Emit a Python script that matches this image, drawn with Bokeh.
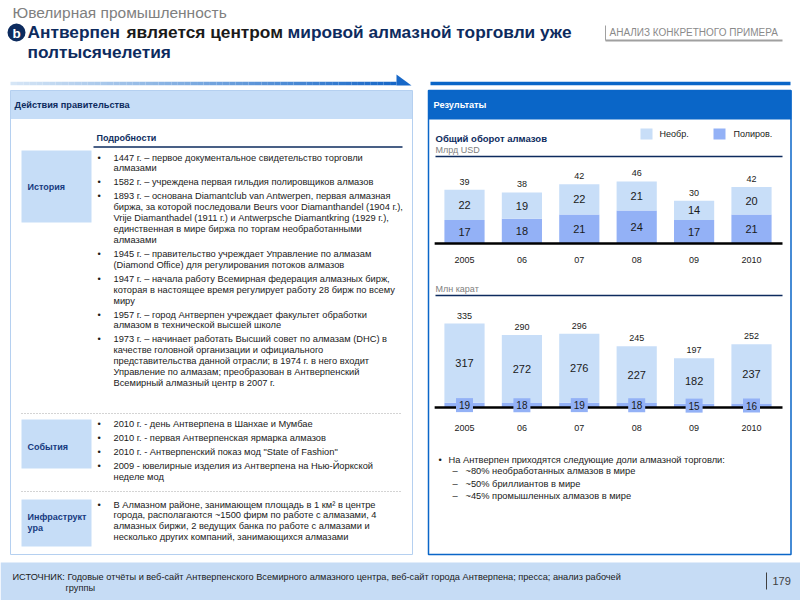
from bokeh.plotting import figure
from bokeh.models import Range1d
from bokeh.core.properties import value
from bokeh.embed import file_html
from bokeh.resources import INLINE

# ---------------- data ----------------
years = ["2005", "06", "07", "08", "09", "2010"]
usd_rough = [22, 19, 22, 21, 14, 20]
usd_polished = [17, 18, 21, 24, 17, 21]
usd_total = [39, 38, 42, 46, 30, 42]
carat_rough = [317, 272, 276, 227, 182, 237]
carat_polished = [19, 18, 19, 18, 15, 16]
carat_total = [335, 290, 296, 245, 197, 252]
legend_labels = ["Необр.", "Полиров."]

history = [
    ["1447 г. – первое документальное свидетельство торговли", "алмазами"],
    ["1582 г. – учреждена первая гильдия полировщиков алмазов"],
    ["1893 г. – основана Diamantclub van Antwerpen, первая алмазная",
     "биржа, за которой последовали Beurs voor Diamanthandel (1904 г.),",
     "Vrije Diamanthadel  (1911  г.) и Antwerpsche Diamantkring (1929 г.),",
     "единственная в мире биржа по торгам необработанными",
     "алмазами"],
    ["1945 г. – правительство учреждает Управление по алмазам",
     "(Diamond  Office) для регулирования потоков алмазов"],
    ["1947 г. – начала работу Всемирная федерация алмазных бирж,",
     "которая в настоящее время регулирует работу 28 бирж по всему",
     "миру"],
    ["1957 г. – город Антверпен учреждает факультет обработки",
     "алмазом в технической высшей школе"],
    ["1973 г. – начинает работать Высший совет по алмазам (DHC) в",
     "качестве головной организации и официального",
     "представительства данной отрасли; в 1974 г. в него входит",
     "Управление по алмазам; преобразован в Антверпенский",
     "Всемирный алмазный центр в 2007 г."],
]
events = [
    ["2010 г. - день Антверпена в Шанхае и Мумбае"],
    ["2010 г. - первая Антверпенская ярмарка алмазов"],
    ["2010 г. - Антверпенский показ мод \"State of Fashion\""],
    ["2009 - ювелирные изделия из Антверпена на Нью-Йоркской", "неделе мод"],
]
infra = [
    ["В Алмазном районе, занимающем площадь в 1 км² в центре",
     "города, располагаются ~1500 фирм по работе с алмазами, 4",
     "алмазных биржи, 2 ведущих банка по работе с алмазами и",
     "несколько других компаний, занимающихся алмазами"],
]
share_intro = "На Антверпен приходятся следующие доли алмазной торговли:"
shares = ["~80% необработанных алмазов в мире",
          "~50% бриллиантов в мире",
          "~45% промышленных алмазов в мире"]

# ---------------- style ----------------
FONT = "Liberation Sans"
NAVY = "#0d2b5e"
CAT = "#163a80"
BLACK = "#1a1a1a"
GRAY = "#808080"
LIGHTBOX = "#c6ddf7"
BLUE = "#0a66c8"
BAR_LIGHT = "#c8def8"
BAR_POL = "#93b1f6"
BODY = 9.3

W, H = 800, 600
p = figure(width=W, height=H, x_range=Range1d(0, W), y_range=Range1d(H, 0),
           output_backend="svg", toolbar_location=None, min_border=0,
           x_axis_location=None, y_axis_location=None)
p.grid.visible = False
p.outline_line_color = None
p.background_fill_color = "white"
p.border_fill_color = "white"


def txt(x, y, s, size, color=BLACK, bold=False, font=FONT, align="left", **kw):
    p.text(x=[x], y=[y], text=[s], text_font=value(font), text_font_size=f"{size}px",
           text_color=color, text_font_style="bold" if bold else "normal",
           text_align=align, text_baseline="middle", **kw)


def bullets(x_b, x_t, y0, items, step, gap, size=BODY):
    y = y0
    for item in items:
        txt(x_b, y, "•", size)
        for line in item:
            txt(x_t, y, line, size)
            y += step
        y += gap


# ---------------- header ----------------
txt(12, 12, "Ювелирная промышленность", 15.5, color=GRAY)
p.scatter(x=[16], y=[32], size=18, marker="circle", fill_color=NAVY, line_color=None)
txt(16, 32.5, "b", 13.5, color="white", bold=True, align="center")
TS = 17.3
txt(27, 31, "Антверпен", TS, color=NAVY, bold=True)
txt(126, 31, "является центром", TS, color=BLACK, bold=True)
txt(287, 31, "мировой алмазной торговли уже", TS, color=NAVY, bold=True)
txt(27, 51, "полтысячелетия", TS, color=NAVY, bold=True)

p.segment(x0=[605], y0=[25], x1=[605], y1=[40], line_color="#a0a0a0", line_width=1)
p.segment(x0=[605], y0=[40], x1=[782], y1=[40], line_color="#a0a0a0", line_width=2)
txt(609, 32, "АНАЛИЗ КОНКРЕТНОГО ПРИМЕРА", 10, color="#8a8a8a")

# gradient arrow line (left)
N = 60
c0 = (214, 230, 246)
c1 = (24, 104, 200)
xs = [10 + (396 - 10) * i / N for i in range(N + 1)]
cols = []
for i in range(N):
    t = i / (N - 1)
    cols.append("#%02x%02x%02x" % tuple(int(c0[k] + (c1[k] - c0[k]) * t) for k in range(3)))
p.segment(x0=xs[:-1], y0=[83] * N, x1=xs[1:], y1=[83] * N, line_color=cols, line_width=3.5)
p.patch(x=[396, 411, 396], y=[74, 85, 85], fill_color="#1868c8", line_color=None)
# right line
p.segment(x0=[430], y0=[83], x1=[790], y1=[83], line_color=BLUE, line_width=3.5)

# ---------------- left panel ----------------
p.quad(left=[10], right=[412], top=[90], bottom=[118.5], fill_color=LIGHTBOX, line_color=None)
p.quad(left=[10], right=[412], top=[90], bottom=[554], fill_color=None,
       line_color="#b5d0f0", line_width=1)
txt(14, 104, "Действия правительства", 9.2, color=NAVY, bold=True)

txt(96, 137, "Подробности", 9, color=NAVY, bold=True)
p.segment(x0=[93], y0=[146.5], x1=[402], y1=[146.5], line_color=NAVY, line_width=1.5)

p.quad(left=[21, 21, 21], right=[91, 91, 91], top=[150, 419, 499], bottom=[222, 468, 546],
       fill_color=LIGHTBOX, line_color=None)
txt(27, 186, "История", 9, color=CAT, bold=True)
txt(27, 446, "События", 9, color=CAT, bold=True)
txt(27, 516.5, "Инфраструкт", 9, color=CAT, bold=True)
txt(27, 527, "ура", 9, color=CAT, bold=True)

bullets(97, 113, 157, history, 10.85, 3.2)
bullets(97, 113, 423.5, events, 10.7, 3.3)
bullets(97, 113, 504, infra, 10.9, 0)

p.segment(x0=[21, 21], y0=[413, 491], x1=[402, 402], y1=[413, 491],
          line_color="#a8a8a8", line_width=1, line_dash="1 2")

# ---------------- right panel ----------------
p.quad(left=[428], right=[791], top=[90], bottom=[119], fill_color=BLUE, line_color=None)
p.quad(left=[428], right=[790.5], top=[90], bottom=[554], fill_color=None,
       line_color=BLUE, line_width=1.5)
txt(433, 104, "Результаты", 9.2, color="white", bold=True)

txt(435, 138, "Общий оборот алмазов", 9.5, color=NAVY, bold=True)
txt(435, 149, "Млрд USD", 9, color=GRAY)
p.segment(x0=[435], y0=[156], x1=[782], y1=[156], line_color=NAVY, line_width=1.5)

p.quad(left=[640, 713], right=[652, 725], top=[128, 128], bottom=[139, 139],
       fill_color=[BAR_LIGHT, BAR_POL], line_color=None)
txt(659, 133, legend_labels[0], 9)
txt(733, 133, legend_labels[1], 9)

txt(435, 288, "Млн карат", 9, color=GRAY)
p.segment(x0=[435], y0=[295], x1=[782], y1=[295], line_color=NAVY, line_width=1.5)

# chart scales (library ranges mapped onto the canvas)
X0, DX = 464.0, 57.4          # first bar centre, bar pitch (px)
B1, K1 = 243.0, 1.38          # baseline px, px per bn USD
B2, K2 = 407.0, 0.25          # baseline px, px per mn carat
p.extra_x_ranges = {"cx": Range1d(start=-X0 / DX, end=-X0 / DX + W / DX)}
p.extra_y_ranges = {
    "c1": Range1d(start=-(H - B1) / K1, end=-(H - B1) / K1 + H / K1),
    "c2": Range1d(start=-(H - B2) / K2, end=-(H - B2) / K2 + H / K2),
}
idx = list(range(len(years)))
BW = 0.70


def chart(rn, rough, pol, total, boxed):
    tops = [a + b for a, b in zip(rough, pol)]
    p.vbar(x=idx, bottom=0, top=pol, width=BW, fill_color=BAR_POL, line_color=None,
           x_range_name="cx", y_range_name=rn)
    p.vbar(x=idx, bottom=pol, top=tops, width=BW, fill_color=BAR_LIGHT, line_color=None,
           x_range_name="cx", y_range_name=rn)
    p.segment(x0=[-0.52], y0=[0], x1=[5.54], y1=[0], line_color="black", line_width=2.5,
              x_range_name="cx", y_range_name=rn)
    p.text(x=idx, y=[b + a / 2 for a, b in zip(rough, pol)], text=[str(v) for v in rough],
           text_font=value(FONT), text_font_size="11px", text_color=BLACK,
           text_align="center", text_baseline="middle", x_range_name="cx", y_range_name=rn)
    if boxed:
        p.rect(x=idx, y=[b / 2 for b in pol], width=17, height=14, width_units="screen",
               height_units="screen", fill_color=BAR_POL, line_color=None,
               x_range_name="cx", y_range_name=rn)
        p.text(x=idx, y=[b / 2 for b in pol], text=[str(v) for v in pol],
               text_font=value(FONT), text_font_size="10px", text_color=BLACK,
               text_align="center", text_baseline="middle", x_range_name="cx", y_range_name=rn)
    else:
        p.text(x=idx, y=[b / 2 for b in pol], text=[str(v) for v in pol],
               text_font=value(FONT), text_font_size="11px", text_color=BLACK,
               text_align="center", text_baseline="middle", x_range_name="cx", y_range_name=rn)
    p.text(x=idx, y=tops, text=[str(v) for v in total], y_offset=-8,
           text_font=value(FONT), text_font_size="9px", text_color=BLACK,
           text_align="center", text_baseline="middle", x_range_name="cx", y_range_name=rn)
    p.text(x=idx, y=[0] * len(idx), text=years, y_offset=16 if rn == "c1" else 20,
           text_font=value(FONT), text_font_size="9px", text_color=BLACK,
           text_align="center", text_baseline="middle", x_range_name="cx", y_range_name=rn)


chart("c1", usd_rough, usd_polished, usd_total, False)
chart("c2", carat_rough, carat_polished, carat_total, True)

txt(438, 459, "•", BODY)
txt(448, 459, share_intro, BODY)
for i, s in enumerate(shares):
    txt(452, 470.5 + 12.5 * i, "–", BODY)
    txt(465, 470.5 + 12.5 * i, s, BODY)

# ---------------- footer ----------------
p.quad(left=[0], right=[800], top=[562], bottom=[600], fill_color="#c6dcf5", line_color=None)
txt(12, 576, "ИСТОЧНИК: Годовые отчёты и веб-сайт Антверпенского Всемирного алмазного центра, "
    "веб-сайт города Антверпена; пресса; анализ рабочей", 9.2)
txt(65, 587, "группы", 9.2)
p.segment(x0=[766], y0=[572], x1=[766], y1=[589], line_color="#404040", line_width=1)
txt(772, 580, "179", 11, color="#404040")

open("out.html", "w").write(file_html(p, INLINE))
